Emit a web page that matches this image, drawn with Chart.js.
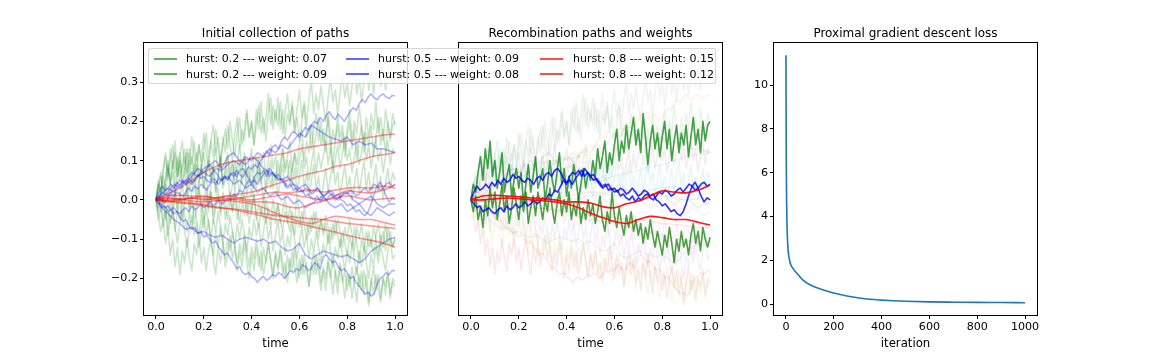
<!DOCTYPE html>
<html>
<head>
<meta charset="utf-8">
<script src="https://cdn.jsdelivr.net/npm/chart.js@4.4.1/dist/chart.umd.min.js"></script>
<style>
  html, body { margin: 0; padding: 0; background: #fff; }
  body { width: 1152px; height: 360px; position: relative; overflow: hidden; font-family: 'DejaVu Sans', sans-serif; }
  canvas { position: absolute; top: 0; }
  #pathsChart { left: 60px; }
  #recombChart { left: 430px; }
  #lossChart { left: 745px; }
  .legend { position: absolute; left: 148px; top: 48px; width: 568px; height: 36px; box-sizing: border-box;
            border: 1px solid rgba(204,204,204,0.8); border-radius: 3px; background: rgba(255,255,255,0.8); z-index: 5; }
  .legend-text { position: absolute; font-size: 11px; line-height: 13px; color: #000; white-space: nowrap; }
  .legend-line { position: absolute; height: 2px; width: 23px; }
</style>
</head>
<body>
<canvas id="pathsChart" width="370" height="360"></canvas>
<canvas id="recombChart" width="315" height="360"></canvas>
<canvas id="lossChart" width="407" height="360"></canvas>
<div class="legend" id="legend"></div>

<script>
/* time grids */
const timeFine = [0, 0.01, 0.02, 0.03, 0.04, 0.05, 0.06, 0.07, 0.08, 0.09,
    0.1, 0.11, 0.12, 0.13, 0.14, 0.15, 0.16, 0.17, 0.18, 0.19,
    0.2, 0.21, 0.22, 0.23, 0.24, 0.25, 0.26, 0.27, 0.28, 0.29,
    0.3, 0.31, 0.32, 0.33, 0.34, 0.35, 0.36, 0.37, 0.38, 0.39,
    0.4, 0.41, 0.42, 0.43, 0.44, 0.45, 0.46, 0.47, 0.48, 0.49,
    0.5, 0.51, 0.52, 0.53, 0.54, 0.55, 0.56, 0.57, 0.58, 0.59,
    0.6, 0.61, 0.62, 0.63, 0.64, 0.65, 0.66, 0.67, 0.68, 0.69,
    0.7, 0.71, 0.72, 0.73, 0.74, 0.75, 0.76, 0.77, 0.78, 0.79,
    0.8, 0.81, 0.82, 0.83, 0.84, 0.85, 0.86, 0.87, 0.88, 0.89,
    0.9, 0.91, 0.92, 0.93, 0.94, 0.95, 0.96, 0.97, 0.98, 0.99, 1.0];
const timeMid81 = [0, 0.0125, 0.025, 0.0375, 0.05, 0.0625, 0.075, 0.0875, 0.1, 0.1125,
    0.125, 0.1375, 0.15, 0.1625, 0.175, 0.1875, 0.2, 0.2125, 0.225, 0.2375,
    0.25, 0.2625, 0.275, 0.2875, 0.3, 0.3125, 0.325, 0.3375, 0.35, 0.3625,
    0.375, 0.3875, 0.4, 0.4125, 0.425, 0.4375, 0.45, 0.4625, 0.475, 0.4875,
    0.5, 0.5125, 0.525, 0.5375, 0.55, 0.5625, 0.575, 0.5875, 0.6, 0.6125,
    0.625, 0.6375, 0.65, 0.6625, 0.675, 0.6875, 0.7, 0.7125, 0.725, 0.7375,
    0.75, 0.7625, 0.775, 0.7875, 0.8, 0.8125, 0.825, 0.8375, 0.85, 0.8625,
    0.875, 0.8875, 0.9, 0.9125, 0.925, 0.9375, 0.95, 0.9625, 0.975, 0.9875, 1.0];
const timeMid = [0, 0.025, 0.05, 0.075, 0.1, 0.125, 0.15, 0.175, 0.2, 0.225, 0.25, 0.275, 0.3, 0.325, 0.35, 0.375, 0.4, 0.425, 0.45, 0.475,
    0.5, 0.525, 0.55, 0.575, 0.6, 0.625, 0.65, 0.675, 0.7, 0.725, 0.75, 0.775, 0.8, 0.825, 0.85, 0.875, 0.9, 0.925, 0.95, 0.975, 1.0];
const timeCoarse = [0, 0.05, 0.1, 0.15, 0.2, 0.25, 0.3, 0.35, 0.4, 0.45, 0.5, 0.55, 0.6, 0.65, 0.7, 0.75, 0.8, 0.85, 0.9, 0.95, 1.0];

/* hurst 0.2 paths */
const green1 = [0, 0.04, 0.02, 0.07, 0.11, 0.05, 0.13, 0.08, 0.15, 0.06,
    0.10, 0.03, 0.07, 0.12, 0.02, 0.06, 0.09, 0.01, 0.05, 0.08,
    0.03, 0.07, -0.01, 0.04, 0.09, 0.02, 0.06, 0.11, 0.03, 0.05,
    0.08, 0.0, 0.04, 0.10, 0.05, 0.02, 0.07, 0.12, 0.04, 0.08,
    0.01, 0.06, 0.03, 0.09, 0.05, 0.0, 0.04, 0.08, 0.03, 0.07,
    0.05, 0.10, 0.06, 0.13, 0.08, 0.11, 0.15, 0.07, 0.12, 0.09,
    0.14, 0.18, 0.10, 0.15, 0.12, 0.19, 0.13, 0.17, 0.21, 0.14,
    0.18, 0.12, 0.22, 0.16, 0.09, 0.15, 0.19, 0.13, 0.17, 0.11,
    0.16, 0.20, 0.13, 0.18, 0.10, 0.15, 0.19, 0.12, 0.17, 0.14,
    0.19, 0.11, 0.16, 0.21, 0.14, 0.18, 0.12, 0.20, 0.15, 0.19, 0.20];
const green2 = [0, -0.03, 0.01, -0.05, -0.02, -0.07, 0.0, -0.04, 0.03, -0.02,
    0.02, -0.05, -0.01, 0.04, -0.03, 0.01, -0.06, -0.02, 0.03, -0.01,
    -0.05, 0.01, -0.03, 0.02, -0.06, -0.02, 0.01, -0.04, 0.02, -0.01,
    -0.05, 0.0, -0.03, 0.03, -0.02, -0.06, -0.01, 0.02, -0.04, 0.0,
    -0.03, 0.02, -0.05, -0.01, -0.04, 0.01, -0.06, -0.02, -0.05, 0.0,
    -0.04, -0.01, -0.06, -0.03, 0.01, -0.05, -0.08, -0.03, -0.06, 0.02,
    -0.04, -0.07, -0.02, -0.06, -0.09, -0.04, -0.07, -0.03, -0.08, -0.05,
    -0.09, -0.06, -0.11, -0.07, -0.10, -0.05, -0.09, -0.12, -0.08, -0.11,
    -0.14, -0.09, -0.12, -0.07, -0.11, -0.16, -0.10, -0.13, -0.08, -0.12,
    -0.10, -0.14, -0.09, -0.06, -0.11, -0.08, -0.13, -0.07, -0.10, -0.12, -0.095];
const green3 = [0, 0.04, 0.01, 0.06, 0.02, 0.08, 0.05, 0.10, 0.04, 0.09,
    0.12, 0.07, 0.11, 0.06, 0.13, 0.09, 0.15, 0.10, 0.14, 0.08,
    0.13, 0.17, 0.11, 0.15, 0.19, 0.12, 0.16, 0.10, 0.14, 0.18,
    0.13, 0.20, 0.15, 0.11, 0.17, 0.21, 0.14, 0.18, 0.23, 0.16,
    0.20, 0.14, 0.19, 0.24, 0.17, 0.21, 0.15, 0.22, 0.26, 0.18,
    0.23, 0.19, 0.25, 0.17, 0.22, 0.27, 0.20, 0.24, 0.18, 0.23,
    0.28, 0.21, 0.25, 0.19, 0.26, 0.30, 0.22, 0.27, 0.23, 0.29,
    0.24, 0.20, 0.26, 0.31, 0.25, 0.28, 0.22, 0.27, 0.32, 0.26,
    0.30, 0.24, 0.29, 0.34, 0.27, 0.31, 0.25, 0.30, 0.35, 0.28,
    0.33, 0.27, 0.32, 0.36, 0.29, 0.34, 0.28, 0.33, 0.37, 0.30, 0.31];
const green4 = [0, 0.03, 0.07, 0.02, 0.06, 0.10, 0.04, 0.09, 0.12, 0.06,
    0.11, 0.15, 0.08, 0.13, 0.09, 0.16, 0.11, 0.07, 0.14, 0.10,
    0.17, 0.12, 0.08, 0.15, 0.11, 0.18, 0.13, 0.09, 0.16, 0.12,
    0.19, 0.14, 0.10, 0.17, 0.21, 0.13, 0.18, 0.15, 0.22, 0.16,
    0.20, 0.14, 0.23, 0.18, 0.25, 0.17, 0.21, 0.27, 0.19, 0.24,
    0.20, 0.26, 0.18, 0.23, 0.16, 0.22, 0.19, 0.25, 0.17, 0.21,
    0.15, 0.20, 0.24, 0.16, 0.19, 0.13, 0.18, 0.22, 0.15, 0.20,
    0.14, 0.17, 0.21, 0.12, 0.18, 0.15, 0.22, 0.16, 0.19, 0.13,
    0.18, 0.23, 0.15, 0.20, 0.17, 0.24, 0.18, 0.14, 0.21, 0.16,
    0.22, 0.18, 0.25, 0.17, 0.21, 0.15, 0.23, 0.19, 0.16, 0.22, 0.19];
const green5 = [0, -0.04, -0.08, -0.05, -0.11, -0.07, -0.14, -0.10, -0.17, -0.12,
    -0.19, -0.13, -0.16, -0.10, -0.15, -0.18, -0.11, -0.14, -0.09, -0.16,
    -0.12, -0.18, -0.13, -0.10, -0.15, -0.19, -0.12, -0.16, -0.11, -0.17,
    -0.14, -0.09, -0.15, -0.12, -0.18, -0.13, -0.17, -0.11, -0.16, -0.20,
    -0.14, -0.18, -0.12, -0.17, -0.13, -0.19, -0.15, -0.11, -0.16, -0.20,
    -0.14, -0.18, -0.13, -0.19, -0.16, -0.21, -0.15, -0.18, -0.12, -0.17,
    -0.20, -0.14, -0.19, -0.16, -0.22, -0.17, -0.13, -0.19, -0.15, -0.21,
    -0.18, -0.23, -0.16, -0.20, -0.14, -0.19, -0.24, -0.17, -0.21, -0.18,
    -0.23, -0.19, -0.25, -0.20, -0.17, -0.22, -0.18, -0.24, -0.19, -0.26,
    -0.21, -0.17, -0.23, -0.19, -0.25, -0.20, -0.22, -0.18, -0.24, -0.20, -0.21];
const green6 = [0, 0.02, -0.03, 0.01, -0.05, -0.01, -0.06, -0.03, -0.08, -0.02,
    -0.05, 0.0, -0.04, -0.08, -0.03, -0.07, -0.01, -0.05, -0.09, -0.04,
    -0.07, -0.02, -0.06, -0.10, -0.05, -0.08, -0.03, -0.07, -0.11, -0.06,
    -0.09, -0.04, -0.08, -0.12, -0.06, -0.10, -0.05, -0.09, -0.13, -0.07,
    -0.10, -0.05, -0.09, -0.06, -0.12, -0.08, -0.04, -0.10, -0.07, -0.13,
    -0.09, -0.05, -0.11, -0.08, -0.14, -0.09, -0.12, -0.06, -0.10, -0.15,
    -0.11, -0.07, -0.12, -0.09, -0.15, -0.10, -0.13, -0.08, -0.12, -0.16,
    -0.11, -0.14, -0.09, -0.13, -0.17, -0.12, -0.15, -0.10, -0.14, -0.18,
    -0.13, -0.16, -0.11, -0.15, -0.19, -0.13, -0.17, -0.12, -0.16, -0.20,
    -0.14, -0.17, -0.12, -0.16, -0.11, -0.15, -0.18, -0.13, -0.10, -0.15, -0.14];
const green7 = [0, 0.03, 0.06, 0.02, 0.05, 0.09, 0.04, 0.07, 0.01, 0.06,
    0.10, 0.05, 0.08, 0.03, 0.07, 0.11, 0.06, 0.09, 0.04, 0.08,
    0.12, 0.06, 0.10, 0.05, 0.09, 0.13, 0.07, 0.11, 0.04, 0.08,
    0.12, 0.07, 0.10, 0.05, 0.09, 0.14, 0.08, 0.11, 0.06, 0.10,
    0.13, 0.07, 0.11, 0.05, 0.09, 0.12, 0.06, 0.10, 0.14, 0.08,
    0.11, 0.05, 0.09, 0.13, 0.07, 0.10, 0.04, 0.08, 0.12, 0.06,
    0.10, 0.14, 0.08, 0.11, 0.05, 0.09, 0.13, 0.07, 0.12, 0.08,
    0.11, 0.15, 0.09, 0.13, 0.07, 0.10, 0.14, 0.08, 0.12, 0.16,
    0.10, 0.13, 0.07, 0.11, 0.15, 0.09, 0.12, 0.17, 0.10, 0.14,
    0.08, 0.12, 0.16, 0.10, 0.13, 0.07, 0.11, 0.15, 0.09, 0.13, 0.12];
const green8 = [0, -0.02, 0.03, -0.01, 0.04, 0.0, 0.05, -0.02, 0.02, -0.03,
    0.01, 0.04, -0.01, 0.03, -0.02, 0.02, 0.05, -0.01, 0.03, -0.04,
    0.0, 0.03, -0.02, 0.02, -0.04, 0.0, 0.03, -0.03, 0.01, -0.05,
    -0.01, 0.02, -0.03, 0.01, -0.05, -0.01, 0.02, -0.04, 0.0, -0.06,
    -0.02, 0.01, -0.04, -0.07, -0.02, -0.05, 0.0, -0.04, -0.07, -0.03,
    -0.06, -0.01, -0.05, -0.08, -0.03, -0.06, -0.02, -0.05, -0.09, -0.04,
    -0.07, -0.03, -0.06, -0.10, -0.05, -0.08, -0.03, -0.07, -0.10, -0.05,
    -0.08, -0.04, -0.07, -0.11, -0.06, -0.09, -0.05, -0.08, -0.12, -0.07,
    -0.10, -0.05, -0.09, -0.13, -0.07, -0.10, -0.06, -0.11, -0.14, -0.08,
    -0.12, -0.07, -0.10, -0.14, -0.09, -0.12, -0.06, -0.11, -0.08, -0.12, -0.10];
const green9 = [0, -0.05, -0.02, -0.07, -0.03, -0.09, -0.05, -0.02, -0.07, -0.11,
    -0.06, -0.03, -0.08, -0.12, -0.07, -0.04, -0.09, -0.06, -0.12, -0.08,
    -0.04, -0.09, -0.05, -0.11, -0.14, -0.08, -0.12, -0.07, -0.11, -0.15,
    -0.10, -0.13, -0.08, -0.12, -0.16, -0.11, -0.14, -0.09, -0.13, -0.17,
    -0.12, -0.15, -0.10, -0.14, -0.18, -0.12, -0.16, -0.11, -0.15, -0.19,
    -0.13, -0.17, -0.12, -0.16, -0.20, -0.14, -0.18, -0.13, -0.17, -0.21,
    -0.15, -0.19, -0.14, -0.18, -0.22, -0.16, -0.19, -0.14, -0.18, -0.23,
    -0.17, -0.20, -0.15, -0.19, -0.24, -0.18, -0.21, -0.16, -0.20, -0.25,
    -0.19, -0.22, -0.17, -0.21, -0.26, -0.19, -0.23, -0.18, -0.22, -0.27,
    -0.20, -0.24, -0.19, -0.23, -0.26, -0.20, -0.24, -0.19, -0.25, -0.21, -0.22];
const green10 = [0, 0.05, 0.02, 0.08, 0.12, 0.06, 0.10, 0.14, 0.07, 0.11,
    0.05, 0.09, 0.13, 0.07, 0.10, 0.04, 0.08, 0.12, 0.06, 0.09,
    0.03, 0.07, 0.11, 0.05, 0.08, 0.02, 0.06, 0.10, 0.04, 0.07,
    0.11, 0.05, 0.09, 0.03, 0.06, 0.10, 0.04, 0.08, 0.01, 0.05,
    0.09, 0.03, 0.07, 0.11, 0.04, 0.08, 0.02, 0.06, 0.10, 0.03,
    0.07, 0.01, 0.05, 0.09, 0.03, 0.06, 0.10, 0.04, 0.08, 0.02,
    0.06, 0.10, 0.03, 0.07, 0.01, 0.05, 0.09, 0.03, 0.06, 0.0,
    0.04, 0.08, 0.02, 0.06, 0.10, 0.04, 0.07, 0.01, 0.05, 0.09,
    0.03, 0.06, 0.0, 0.04, 0.08, 0.02, 0.06, 0.10, 0.03, 0.07,
    0.01, 0.05, 0.09, 0.02, 0.06, 0.0, 0.04, 0.08, 0.03, 0.07, 0.05];

/* hurst 0.5 paths (blue1, blue3, blue4, blue8 on the 81-point grid) */
const blue1 = [0, 0.008, 0.0, -0.008, 0.005, 0.015, 0.01, 0.02, 0.015, 0.008,
    0.02, 0.03, 0.022, 0.035, 0.028, 0.04, 0.033, 0.025, 0.04, 0.048,
    0.04, 0.055, 0.048, 0.06, 0.052, 0.068, 0.06, 0.075, 0.065, 0.058,
    0.07, 0.085, 0.078, 0.09, 0.082, 0.1, 0.11, 0.125, 0.115, 0.135,
    0.14, 0.13, 0.15, 0.16, 0.152, 0.165, 0.175, 0.168, 0.16, 0.172,
    0.185, 0.178, 0.19, 0.2, 0.195, 0.21, 0.2, 0.215, 0.225, 0.212,
    0.205, 0.218, 0.21, 0.2, 0.212, 0.225, 0.235, 0.228, 0.245, 0.255,
    0.248, 0.262, 0.27, 0.26, 0.255, 0.265, 0.27, 0.262, 0.258, 0.266, 0.265];
const blue2 = [0, 0.015, 0.03, 0.02, 0.04, 0.05, 0.04, 0.06, 0.07, 0.06, 0.08, 0.075, 0.09, 0.10, 0.09, 0.11, 0.10, 0.12, 0.11, 0.13,
    0.12, 0.14, 0.13, 0.15, 0.17, 0.16, 0.19, 0.18, 0.17, 0.16, 0.155, 0.15, 0.16, 0.14, 0.15, 0.14, 0.145, 0.13, 0.13, 0.125, 0.12];
const blue3 = [0, 0.02, 0.035, 0.025, 0.03, 0.04, 0.03, 0.045, 0.035, 0.05,
    0.04, 0.055, 0.045, 0.05, 0.065, 0.055, 0.06, 0.05, 0.045, 0.055,
    0.05, 0.04, 0.055, 0.06, 0.05, 0.065, 0.07, 0.06, 0.075, 0.08,
    0.07, 0.055, 0.045, 0.05, 0.04, 0.055, 0.065, 0.075, 0.06, 0.07,
    0.06, 0.05, 0.055, 0.045, 0.035, 0.04, 0.025, 0.03, 0.02, 0.025,
    0.01, 0.015, 0.005, 0.0, 0.01, -0.005, 0.005, 0.0, 0.01, 0.015,
    0.005, 0.0, 0.01, 0.02, 0.015, 0.025, 0.02, 0.01, 0.015, 0.025,
    0.03, 0.02, 0.03, 0.04, 0.035, 0.025, 0.03, 0.04, 0.045, 0.035, 0.04];
const blue4 = [0, -0.01, -0.02, -0.015, -0.03, -0.025, -0.02, -0.03, -0.035, -0.025,
    -0.02, -0.03, -0.015, -0.025, -0.02, -0.01, -0.02, -0.015, -0.005, -0.015,
    -0.01, 0.0, -0.01, -0.005, 0.005, 0.0, 0.015, 0.01, 0.025, 0.02,
    0.035, 0.05, 0.04, 0.06, 0.07, 0.065, 0.075, 0.06, 0.08, 0.07,
    0.06, 0.065, 0.05, 0.04, 0.03, 0.035, 0.04, 0.025, 0.03, 0.02,
    0.03, 0.025, 0.015, 0.02, 0.03, 0.02, 0.01, 0.015, 0.025, 0.02,
    0.01, 0.015, 0.0, -0.005, -0.015, -0.01, -0.02, -0.03, -0.025, -0.035,
    -0.04, -0.03, -0.01, 0.015, 0.035, 0.045, 0.03, 0.01, -0.005, 0.005, 0.0];
const blue5 = [0, 0.02, 0.01, 0.03, 0.05, 0.04, 0.06, 0.08, 0.07, 0.09, 0.10, 0.08, 0.11, 0.12, 0.10, 0.09, 0.11, 0.10, 0.08, 0.07,
    0.06, 0.05, 0.06, 0.04, 0.03, 0.04, 0.02, 0.03, 0.01, 0.02, 0.0, 0.01, 0.02, 0.0, -0.01, 0.0, 0.01, -0.01, -0.02, -0.01, -0.01];
const blue6 = [0, 0.01, 0.02, 0.04, 0.03, 0.05, 0.07, 0.06, 0.08, 0.09, 0.07, 0.05, 0.06, 0.04, 0.05, 0.03, 0.04, 0.02, 0.03, 0.01,
    0.02, 0.0, 0.01, -0.01, 0.0, -0.02, -0.01, 0.0, 0.01, -0.01, -0.02, -0.01, -0.03, -0.02, -0.01, -0.03, -0.04, -0.02, -0.03, -0.04, -0.03];
const blue7 = [0, -0.02, -0.035, -0.05, -0.06, -0.075, -0.07, -0.085, -0.08, -0.09, -0.095, -0.09, -0.10, -0.11, -0.10, -0.095, -0.10, -0.105, -0.10, -0.11,
    -0.105, -0.12, -0.13, -0.125, -0.11, -0.14, -0.15, -0.14, -0.13, -0.135, -0.14, -0.145, -0.14, -0.15, -0.16, -0.15, -0.13, -0.12, -0.11, -0.10, -0.095];
const blue8 = [0, -0.005, -0.012, -0.02, -0.015, -0.025, -0.035, -0.03, -0.045, -0.055,
    -0.05, -0.065, -0.075, -0.07, -0.085, -0.08, -0.095, -0.09, -0.1, -0.11,
    -0.105, -0.12, -0.13, -0.14, -0.135, -0.15, -0.16, -0.175, -0.17, -0.185,
    -0.19, -0.185, -0.195, -0.2, -0.21, -0.2, -0.195, -0.205, -0.2, -0.19,
    -0.195, -0.185, -0.19, -0.2, -0.19, -0.18, -0.185, -0.175, -0.18, -0.165,
    -0.17, -0.18, -0.175, -0.16, -0.165, -0.175, -0.145, -0.14, -0.15, -0.16,
    -0.155, -0.17, -0.18, -0.175, -0.185, -0.2, -0.195, -0.21, -0.22, -0.23,
    -0.24, -0.235, -0.245, -0.24, -0.215, -0.2, -0.195, -0.185, -0.19, -0.18, -0.18];

/* hurst 0.8 paths */
const red1 = [0, 0.015, 0.03, 0.05, 0.07, 0.085, 0.095, 0.1, 0.105, 0.11, 0.115, 0.12, 0.13, 0.135, 0.14, 0.145, 0.15, 0.155, 0.16, 0.165, 0.168];
const red2 = [0, 0.005, 0.0, 0.005, 0.01, 0.005, 0.01, 0.015, 0.02, 0.03, 0.04, 0.05, 0.06, 0.068, 0.075, 0.085, 0.09, 0.1, 0.11, 0.115, 0.12];
const red3 = [0, 0.01, 0.012, 0.01, 0.008, 0.005, 0.003, 0.0, -0.005, -0.005, -0.008, -0.017, -0.02, -0.01, -0.003, 0.01, 0.023, 0.02, 0.018, 0.025, 0.038];
const red4 = [0, 0.0, 0.003, 0.005, 0.003, 0.0, -0.002, -0.005, -0.01, -0.02, -0.034, -0.045, -0.055, -0.06, -0.05, -0.042, -0.045, -0.05, -0.05, -0.057, -0.064];
const red5 = [0, -0.005, 0.0, 0.005, 0.0, 0.005, 0.01, 0.005, 0.0, 0.005, 0.01, 0.015, 0.01, 0.005, 0.0, 0.005, 0.01, 0.005, 0.0, 0.003, 0.005];
const red6 = [0, -0.003, -0.008, -0.01, -0.015, -0.02, -0.022, -0.025, -0.03, -0.035, -0.04, -0.042, -0.045, -0.048, -0.05, -0.055, -0.06, -0.063, -0.066, -0.07, -0.072];
const red7 = [0, -0.002, -0.005, -0.008, -0.012, -0.018, -0.022, -0.028, -0.035, -0.042, -0.05, -0.055, -0.06, -0.068, -0.075, -0.082, -0.09, -0.097, -0.103, -0.11, -0.12];
const red8 = [0, 0.005, 0.002, -0.003, -0.005, -0.002, 0.0, 0.005, 0.01, 0.015, 0.02, 0.018, 0.022, 0.025, 0.02, 0.025, 0.03, 0.032, 0.03, 0.035, 0.03];

/* loss curve */
const lossIter = [0, 1, 2, 3, 5, 7, 10, 15, 20, 30, 40, 50, 70, 100, 130, 160, 200, 250, 300, 350, 400, 450, 500, 600, 700, 800, 900, 1000];
const lossValue = [11.36, 7.5, 5.6, 4.5, 3.4, 2.8, 2.35, 2.0, 1.8, 1.62, 1.47, 1.35, 1.1, 0.88, 0.74, 0.63, 0.5, 0.38, 0.29, 0.22, 0.18, 0.15, 0.13, 0.1, 0.085, 0.075, 0.068, 0.06];

/* ticks and labels */
const pathXTicks = [0, 0.2, 0.4, 0.6, 0.8, 1.0];
const pathXTickLabels = ["0.0", "0.2", "0.4", "0.6", "0.8", "1.0"];
const pathYTicks = [-0.2, -0.1, 0, 0.1, 0.2, 0.3];
const pathYTickLabels = ["\u22120.2", "\u22120.1", "0.0", "0.1", "0.2", "0.3"];
const lossXTicks = [0, 200, 400, 600, 800, 1000];
const lossXTickLabels = ["0", "200", "400", "600", "800", "1000"];
const lossYTicks = [0, 2, 4, 6, 8, 10];
const lossYTickLabels = ["0", "2", "4", "6", "8", "10"];
const legendLabels = [
    "hurst: 0.2 --- weight: 0.07",
    "hurst: 0.2 --- weight: 0.09",
    "hurst: 0.5 --- weight: 0.09",
    "hurst: 0.5 --- weight: 0.08",
    "hurst: 0.8 --- weight: 0.15",
    "hurst: 0.8 --- weight: 0.12"
];

/* groups: [time grid, values] in plotting order */
const greenSeries = [green1, green2, green4, green5, green6, green7, green8, green3, green9, green10].map(p => [timeFine, p]);
const blueSeries = [[timeMid81, blue3], [timeMid81, blue1], [timeMid, blue2], [timeMid81, blue8],
    [timeMid81, blue4], [timeMid, blue5], [timeMid, blue6], [timeMid, blue7]];
const redSeries = [red1, red2, red3, red4, red5, red6, red7, red8].map(p => [timeCoarse, p]);

const tab10 = ["31,119,180", "255,127,14", "44,160,44", "214,39,40", "148,103,189",
    "140,86,75", "227,119,194", "127,127,127", "188,189,34", "23,190,207"];
Chart.defaults.font.family = "'DejaVu Sans', sans-serif";
Chart.defaults.color = "#000";

const toPoints = (times, values) => values.map((v, i) => ({ x: times[i], y: v }));

const line = (times, values, color, width, tension) => ({
    data: toPoints(times, values),
    borderColor: color,
    borderWidth: width,
    pointRadius: 0,
    tension: tension || 0,
    borderJoinStyle: "round",
    fill: false
});

// black box round each axes, drawn over the lines like matplotlib spines
const framePlugin = {
    id: "frame",
    afterDatasetsDraw(chart) {
        const { ctx, chartArea: a } = chart;
        const l = Math.round(a.left), t = Math.round(a.top);
        const r = Math.round(a.right), b = Math.round(a.bottom);
        ctx.save();
        ctx.strokeStyle = "#000";
        ctx.lineWidth = 1;
        ctx.strokeRect(l - 0.5, t - 0.5, r - l + 1, b - t + 1);
        ctx.restore();
    }
};

function tickScale(min, max, ticks, labels, opts) {
    return Object.assign({
        type: "linear",
        min: min,
        max: max,
        afterBuildTicks: s => { s.ticks = ticks.map(v => ({ value: v })); },
        ticks: {
            autoSkip: false,
            maxRotation: 0,
            padding: 2,
            font: { size: 11.1 },
            color: "#000",
            callback: v => { const i = ticks.indexOf(v); return i >= 0 ? labels[i] : ""; }
        },
        grid: { drawOnChartArea: false, drawTicks: true, tickLength: 4, color: "#000", lineWidth: 1 },
        border: { display: false }
    }, opts);
}

function xScale(min, max, ticks, labels, title) {
    const s = tickScale(min, max, ticks, labels, {
        title: { display: true, text: title, font: { size: 11.7 }, color: "#000", padding: { top: 0, bottom: 9 } },
        afterFit: sc => { sc.height = 45; sc.paddingLeft = 0; sc.paddingRight = 0; }
    });
    s.ticks.padding = 1;
    return s;
}

function yScale(min, max, ticks, labels, width) {
    return tickScale(min, max, ticks, labels, {
        afterFit: sc => { sc.width = width; sc.paddingTop = 0; sc.paddingBottom = 0; }
    });
}

function titleOpts(text) {
    return {
        display: true,
        text: text,
        fullSize: false,
        color: "#000",
        font: { size: 12, weight: "normal" },
        padding: { top: 0, bottom: 2 }
    };
}

const baseOptions = (title, padLeft, padRight, scales) => ({
    responsive: false,
    animation: false,
    events: [],
    layout: { padding: { left: padLeft, right: padRight, top: 26.6, bottom: 0 } },
    plugins: { legend: { display: false }, tooltip: { enabled: false }, title: titleOpts(title) },
    scales: scales
});

/* panel 1: all paths, reds on top */
const pathsDatasets = [];
redSeries.forEach(([t, p]) => pathsDatasets.push(line(t, p, "rgba(255,0,0,0.4)", 1.6, 0.3)));
blueSeries.forEach(([t, p]) => pathsDatasets.push(line(t, p, "rgba(0,0,255,0.3)", 1.6)));
greenSeries.forEach(([t, p]) => pathsDatasets.push(line(t, p, "rgba(0,128,0,0.2)", 1.6)));

new Chart(document.getElementById("pathsChart"), {
    type: "line",
    data: { datasets: pathsDatasets },
    options: baseOptions("Initial collection of paths", 0, 23, {
        x: xScale(-0.05, 1.05, pathXTicks, pathXTickLabels, "time"),
        y: yScale(-0.293, 0.3995, pathYTicks, pathYTickLabels, 84)
    }),
    plugins: [framePlugin]
});

/* panel 2: selected paths over the faint collection */
const allSeries = greenSeries.concat(blueSeries, redSeries);

const recombDatasets = [
    line(timeCoarse, red3, "rgba(255,0,0,0.9)", 1.6, 0.3),
    line(timeCoarse, red4, "rgba(255,0,0,0.9)", 1.6, 0.3),
    line(timeMid81, blue3, "rgba(0,0,255,0.8)", 1.6),
    line(timeMid81, blue4, "rgba(0,0,255,0.8)", 1.6),
    line(timeFine, green1, "rgba(0,128,0,0.7)", 1.6),
    line(timeFine, green2, "rgba(0,128,0,0.7)", 1.6)
];
for (let i = allSeries.length - 1; i >= 0; i--) {
    const [t, p] = allSeries[i];
    const tens = t === timeCoarse ? 0.3 : 0;
    recombDatasets.push(line(t, p, "rgba(" + tab10[i % 10] + ",0.1)", 1.6, tens));
}

new Chart(document.getElementById("recombChart"), {
    type: "line",
    data: { datasets: recombDatasets },
    options: baseOptions("Recombination paths and weights", 29, 23, {
        x: xScale(-0.05, 1.05, pathXTicks, pathXTickLabels, "time"),
        y: { type: "linear", display: false, min: -0.293, max: 0.3995 }
    }),
    plugins: [framePlugin]
});

/* panel 3: loss */
const lossLine = line(lossIter, lossValue, "#1f77b4", 1.6);
lossLine.cubicInterpolationMode = "monotone";
new Chart(document.getElementById("lossChart"), {
    type: "line",
    data: { datasets: [lossLine] },
    options: baseOptions("Proximal gradient descent loss", 0, 115, {
        x: xScale(-50, 1050, lossXTicks, lossXTickLabels, "iteration"),
        y: yScale(-0.5, 11.92, lossYTicks, lossYTickLabels, 29)
    }),
    plugins: [framePlugin]
});

/* legend */
const legendColors = ["rgba(0,128,0,0.6)", "rgba(0,128,0,0.6)", "rgba(0,0,255,0.6)", "rgba(0,0,255,0.6)", "rgba(255,0,0,0.7)", "rgba(255,0,0,0.7)"];
const legendEl = document.getElementById("legend");
const colLine = [4.5, 197, 391];
const colText = [37, 229, 424];
const rowMid = [9.7, 25.3];
legendLabels.forEach((label, i) => {
    const col = Math.floor(i / 2), row = i % 2;
    const ln = document.createElement("div");
    ln.className = "legend-line";
    ln.style.left = colLine[col] + "px";
    ln.style.top = (rowMid[row] - 1) + "px";
    ln.style.background = legendColors[i];
    legendEl.appendChild(ln);
    const tx = document.createElement("div");
    tx.className = "legend-text";
    tx.style.left = colText[col] + "px";
    tx.style.top = (rowMid[row] - 6.5) + "px";
    tx.textContent = label;
    legendEl.appendChild(tx);
});
</script>
</body>
</html>
